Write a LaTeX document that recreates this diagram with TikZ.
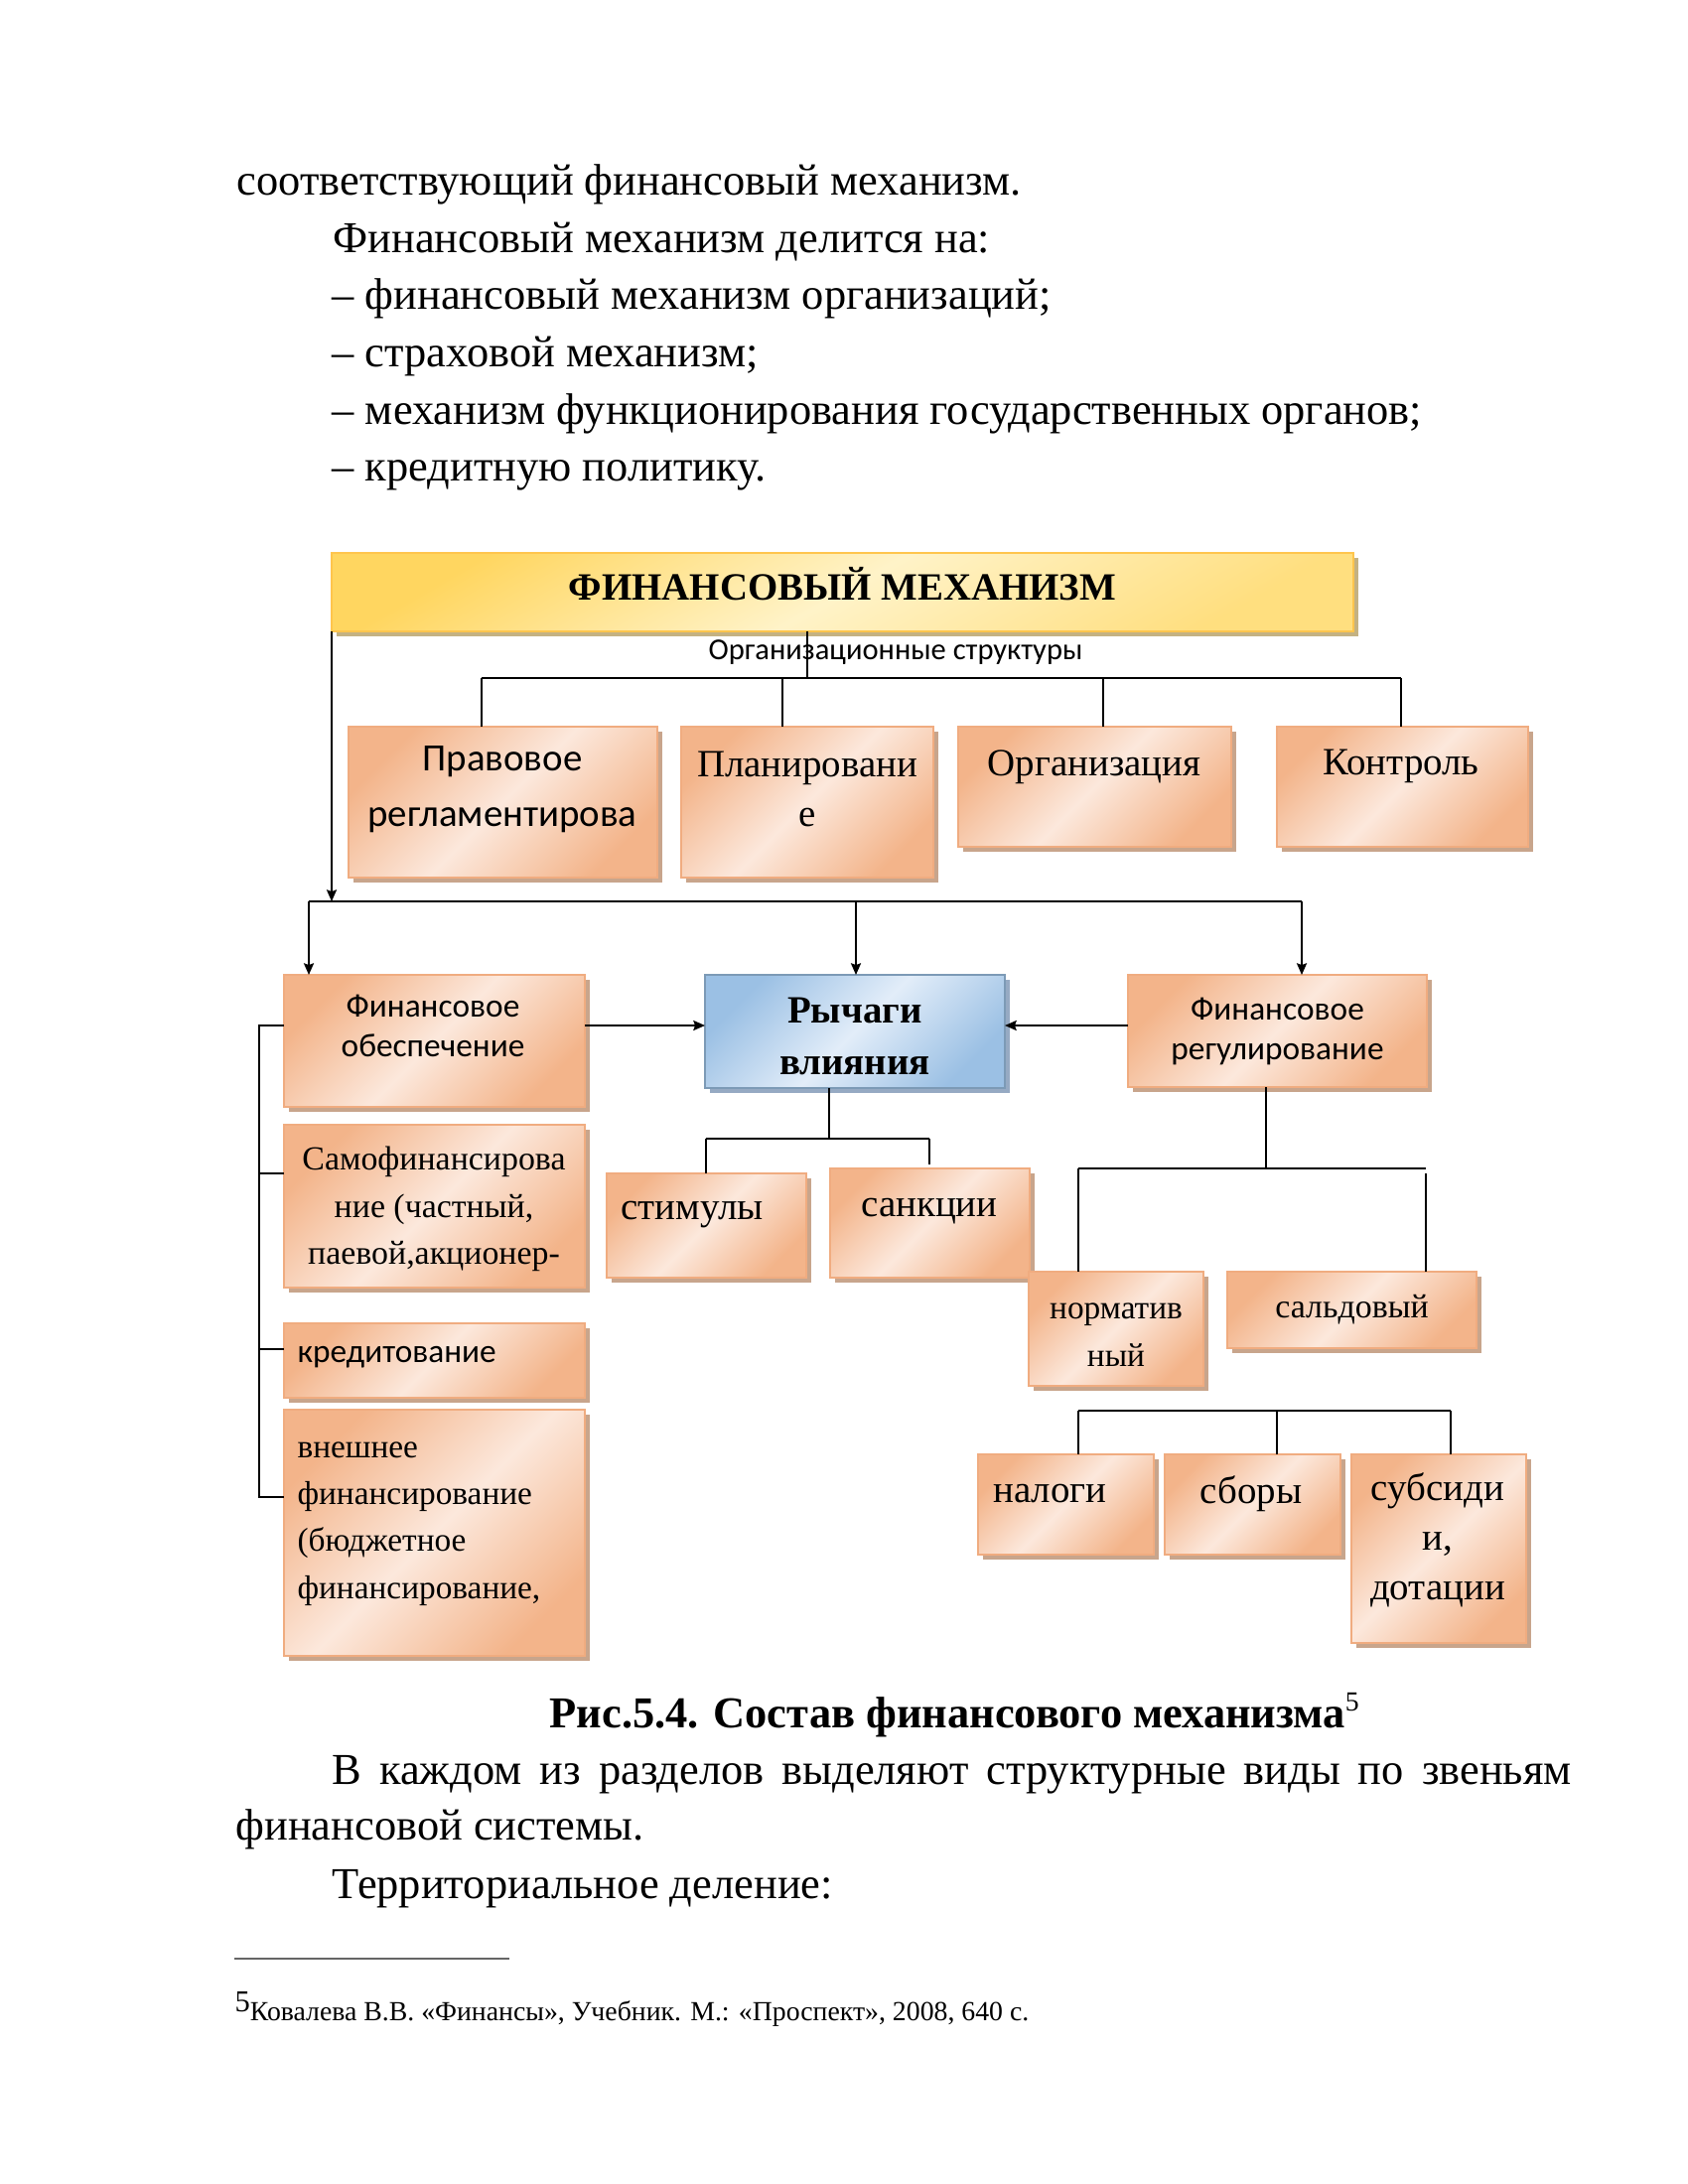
\documentclass[tikz,border=0pt]{standalone}
\usepackage{fontspec}
\setmainfont{Liberation Serif}
\newfontfamily\calfont{Carlito}
\usetikzlibrary{arrows.meta,shadows}
\definecolor{orD}{RGB}{243,180,138}
\definecolor{orL}{RGB}{252,232,220}
\definecolor{orE}{RGB}{240,172,128}
\definecolor{orS}{RGB}{200,165,140}
\definecolor{ylD}{RGB}{255,214,96}
\definecolor{ylL}{RGB}{255,243,200}
\definecolor{ylS}{RGB}{196,178,130}
\definecolor{blD}{RGB}{155,192,228}
\definecolor{blL}{RGB}{226,237,249}
\definecolor{blS}{RGB}{150,170,195}
\newcommand\fsz[2]{\fontsize{#1pt}{#2pt}\selectfont}
\begin{document}
\begin{tikzpicture}[x=0.36pt,y=-0.36pt,
  sz/.style 2 args={minimum width=#1*0.36pt,minimum height=#2*0.36pt},
  base/.style={inner sep=0pt,outer sep=0pt,line width=0.5pt},
  obox/.style={base,draw=orE,top color=orD,bottom color=orD,middle color=orL,shading angle=45,
    general shadow={fill=orS,shadow xshift=1.8pt,shadow yshift=-1.8pt}},
  ybox/.style={base,draw=ylD!80!orange,top color=ylD,bottom color=ylD!70!ylL,middle color=ylL,shading angle=30,
    general shadow={fill=ylS,shadow xshift=1.8pt,shadow yshift=-1.8pt}},
  bbox/.style={base,draw=blD!80!black,top color=blD,bottom color=blD,middle color=blL,shading angle=45,
    general shadow={fill=blS,shadow xshift=1.8pt,shadow yshift=-1.8pt}},
  ln/.style={line width=0.75pt,black},
  arr/.style={ln,-{Stealth[length=4.2pt,width=3.6pt,inset=0.6pt]}},
  tS/.style={inner sep=0pt,align=center,font=\fsz{14}{18}},
  tC/.style={inner sep=0pt,align=center,font=\calfont\fsz{14}{20}},
  body/.style={inner sep=0pt,anchor=base west,font=\fsz{16}{19}},
]
\useasboundingbox[fill=white] (0,0) rectangle (1700,2200);

% body text above
\node[body] (l1) at (238,197) {соответствующий финансовый механизм.};
\node[body] (l2) at (335,254.5) {Финансовый механизм делится на:};
\node[body] (l3) at (334,312) {– финансовый механизм организаций;};
\node[body] (l4) at (334,369.5) {– страховой механизм;};
\node[body] (l5) at (334,427) {– механизм функционирования государственных органов;};
\node[body] (l6) at (334,484.5) {– кредитную политику.};

% title
\node[ybox,sz={1029}{79},font=\bfseries\fsz{14}{16},text depth=6.5pt] (title) at (848.5,596.5) {ФИНАНСОВЫЙ МЕХАНИЗМ};
\node[inner sep=0pt,font=\calfont\fsz{11}{13}] (orgs) at (902,657) {Организационные структуры};

% row 1
\node[obox,sz={311}{152}] (prav) at (506.5,808) {};
\node[tC] (pravT) at (506,795) {Правовое\\регламентирова};
\node[obox,sz={254}{152}] (plan) at (813,808) {};
\node[tS] (planT) at (813,795) {Планировани\\е};
\node[obox,sz={275}{121}] (org) at (1102.5,792.5) {};
\node[tS] (orgT) at (1102,773) {Организация};
\node[obox,sz={253}{121}] (kontr) at (1412.5,792.5) {};
\node[tS] (kontrT) at (1411,772) {Контроль};

% row 2
\node[obox,sz={303}{133}] (fo) at (437.5,1048.5) {};
\node[inner sep=0pt,align=center,font=\calfont\fsz{12}{14.4}] (foT) at (436,1033) {Финансовое\\обеспечение};
\node[bbox,sz={302}{114}] (ryc) at (861,1039) {};
\node[inner sep=0pt,align=center,font=\bfseries\fsz{14}{18.7}] (rycT) at (861,1044) {Рычаги\\влияния};
\node[obox,sz={301}{113},align=center,font=\calfont\fsz{12}{14.4}] (fr) at (1286.5,1038.5) {Финансовое\\регулирование};

% left column
\node[obox,sz={303}{164}] (samo) at (437.5,1215) {};
\node[inner sep=0pt,align=center,font=\fsz{12.2}{17.2}] (samoT) at (437,1218) {Самофинансирова\\ние (частный,\\паевой,акционер-};
\node[obox,sz={303}{75}] (kred) at (437.5,1370.5) {};
\node[inner sep=0pt,anchor=west,font=\calfont\fsz{12}{14}] (kredT) at (299,1367) {кредитование};
\node[obox,sz={303}{248}] (vnesh) at (437.5,1544) {};
\node[inner sep=0pt,anchor=west,align=left,font=\fsz{12}{17}] (vneshT) at (299,1535) {внешнее\\финансирование\\(бюджетное\\финансирование,};

% levers children
\node[obox,sz={201}{105}] (stim) at (711.5,1234.5) {};
\node[inner sep=0pt,anchor=west,font=\fsz{14}{18}] (stimT) at (625,1224) {стимулы};
\node[obox,sz={201}{110}] (sank) at (936.5,1232) {};
\node[tS] (sankT) at (936,1220) {санкции};

% regulation children
\node[obox,sz={176}{115}] (norm) at (1124,1338.5) {};
\node[inner sep=0pt,align=center,font=\fsz{12}{17.3}] (normT) at (1124,1345) {норматив\\ный};
\node[obox,sz={251}{77},font=\fsz{12.2}{15}] (sald) at (1361.5,1319.5) {сальдовый};

% bottom row
\node[obox,sz={177}{101}] (nal) at (1073.5,1515.5) {};
\node[inner sep=0pt,anchor=west,font=\fsz{14}{18}] (nalT) at (1000,1505) {налоги};
\node[obox,sz={177}{101}] (sbor) at (1261.5,1515.5) {};
\node[tS] (sborT) at (1260,1505) {сборы};
\node[obox,sz={176}{190}] (subs) at (1449,1560) {};
\node[inner sep=0pt,align=center,font=\fsz{14}{18}] (subsT) at (1448,1551) {субсиди\\и,\\дотации};

% connectors: title
\draw[ln] (813,0 |- title.south) -- (813,683);
\coordinate (b1L) at (485,683);
\coordinate (b1R) at (1411,683);
\draw[ln] (b1L) -- (b1R);
\draw[ln] (b1L) -- (b1L |- prav.north);
\draw[ln] (788,683) -- (788,0 |- plan.north);
\draw[ln] (1111,683) -- (1111,0 |- org.north);
\draw[ln] (b1R) -- (b1R |- kontr.north);

\coordinate (b2L) at (311,908);
\coordinate (b2R) at (1311,908);
\draw[arr] (title.south west) -- (title.south west |- b2L);
\draw[ln] (b2L) -- (b2R);
\draw[arr] (b2L) -- (b2L |- fo.north);
\draw[arr] (862,908) -- (862,0 |- ryc.north);
\draw[arr] (b2R) -- (b2R |- fr.north);

\draw[arr] (fo.east |- 0,1033) -- (ryc.west |- 0,1033);
\draw[arr] (fr.west |- 0,1033) -- (ryc.east |- 0,1033);

% left bracket
\coordinate (lbT) at (261,1033);
\coordinate (lbB) at (261,1508);
\draw[ln] (fo.west |- lbT) -- (lbT) -- (lbB) -- (vnesh.west |- lbB);
\draw[ln] (261,1182) -- (samo.west |- 0,1182);
\draw[ln] (261,1359) -- (kred.west |- 0,1359);

% levers tree
\coordinate (rL) at (711,1147);
\coordinate (rR) at (936,1147);
\draw[ln] (835,0 |- ryc.south) -- (835,1147);
\draw[ln] (rL) -- (rR);
\draw[ln] (rL) -- (rL |- stim.north);
\draw[ln] (rR) -- (936,1173);

% regulation tree
\coordinate (gL) at (1086,1177);
\coordinate (gR) at (1436,1177);
\draw[ln] (1275,0 |- fr.south) -- (1275,1177);
\draw[ln] (gL) -- (gR);
\draw[ln] (gL) -- (gL |- norm.north);
\draw[ln] (1436,1182) -- (1436,0 |- sald.north);

% bottom tree
\coordinate (hL) at (1086,1421);
\coordinate (hR) at (1461,1421);
\draw[ln] (hL) -- (hR);
\draw[ln] (hL) -- (hL |- nal.north);
\draw[ln] (1286,1421) -- (1286,0 |- sbor.north);
\draw[ln] (hR) -- (hR |- subs.north);

% caption and text below
\node[body,font=\bfseries\fsz{16}{19}] (cap) at (553,1740) {Рис.5.4. Состав финансового механизма{\mdseries\fsz{10}{10}\raisebox{6pt}{5}}};
\node[body] (l7) at (334,1797) {\makebox[449.3pt][s]{В каждом из разделов выделяют структурные виды по звеньям}};
\node[body] (l8) at (237,1853) {финансовой системы.};
\node[body] (l9) at (334,1912) {Территориальное деление:};
\coordinate (fnL) at (236,1973);
\coordinate (fnR) at (513,1973);
\draw[line width=0.5pt,black!60] (fnL) -- (fnR);
\node[body,font=\fsz{10}{12}] (fn) at (236,2035) {\raisebox{3pt}{\fsz{11}{12}5}Ковалева В.В. «Финансы», Учебник. М.: «Проспект», 2008, 640 с.};
\end{tikzpicture}
\end{document}
